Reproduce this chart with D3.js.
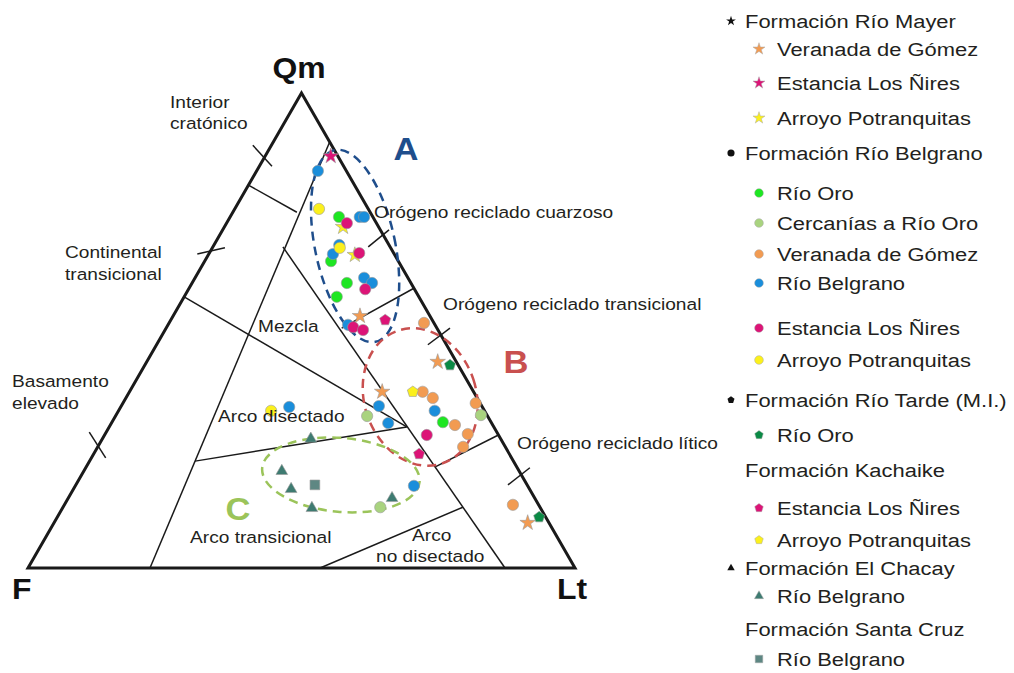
<!DOCTYPE html>
<html>
<head>
<meta charset="utf-8">
<script src="https://cdnjs.cloudflare.com/ajax/libs/d3/7.8.5/d3.min.js"></script>
<style>
  body { margin: 0; background: #fff; }
  text { font-family: "Liberation Sans", Arial, sans-serif; fill: #231f20; }
</style>
</head>
<body>
<svg width="1014" height="673"></svg>
<script>
// all points are [Qm, F, Lt] in percent
var mayerVeranada = [[53.1, 12.8, 34.2], [37.1, 16.7, 46.2], [43.4, 3.4, 53.2], [9.5, 3.9, 86.6]];
var mayerNires = [[86.7, 1.3, 12.0]];
var mayerArroyo = [[71.8, 6.5, 21.7], [65.9, 7.3, 26.8]];

var belgranoRioOro = [[73.9, 6.2, 19.9], [64.6, 12.3, 23.1], [60.0, 11.7, 28.3], [57.1, 15.0, 27.9], [30.7, 8.8, 60.5]];
var belgranoCercanias = [[32.0, 22.0, 46.0], [12.8, 29.2, 58.0], [32.2, 1.1, 66.7]];
var belgranoVeranada = [[51.6, 1.8, 46.6], [37.1, 9.3, 53.6], [35.8, 8.1, 56.1], [30.1, 6.9, 63.0],
  [34.7, 0.8, 64.5], [28.2, 5.5, 66.3], [25.5, 7.7, 66.8], [13.3, 4.7, 82.0]];
var belgranoBelgrano = [[83.6, 5.2, 11.2], [73.9, 2.4, 23.7], [73.9, 1.6, 24.5], [68.0, 9.1, 22.9],
  [66.1, 11.2, 22.7], [61.1, 8.0, 30.9], [60.0, 7.1, 32.9], [51.2, 15.9, 32.9], [33.1, 9.1, 57.8],
  [34.1, 18.8, 47.1], [30.5, 18.9, 50.6], [33.9, 35.3, 30.8], [17.3, 20.8, 61.9]];
var belgranoNires = [[72.6, 5.4, 22.0], [66.3, 6.3, 27.4], [58.7, 9.0, 32.3], [50.7, 15.2, 34.1],
  [50.1, 13.7, 36.2], [28.0, 13.1, 58.9]];
var belgranoArroyo = [[75.6, 9.0, 15.4], [67.4, 9.3, 23.3], [33.1, 39.0, 27.9]];

var tardeRioOro = [[42.7, 1.5, 55.8], [10.7, 1.2, 88.1]];
var kachaikeNires = [[52.2, 8.6, 39.2], [24.0, 16.5, 59.5]];
var kachaikeArroyo = [[37.1, 11.1, 51.8]];
var chacayBelgrano = [[27.2, 34.7, 38.1], [20.4, 43.4, 36.2], [16.6, 43.6, 39.8], [12.6, 41.8, 45.6], [14.7, 26.1, 59.2]];
var santaCruzBelgrano = [[17.5, 38.8, 43.7]];

// field boundaries (Dickinson QmFLt)
var fieldLines = [
  [[89.7, 0, 10.3], [0, 77.7, 22.3]],
  [[80.6, 19.4, 0], [74.9, 13.4, 11.7]],
  [[57.1, 42.9, 0], [29.7, 15.9, 54.4]],
  [[67.6, 19.6, 12.8], [0, 12.8, 87.2]],
  [[22.5, 58.2, 19.3], [29.7, 15.9, 54.4]],
  [[12.8, 14.1, 73.1], [0, 46.6, 53.4]],
  [[50.5, 17.4, 32.1], [58.9, 0, 41.1]],
  [[21.3, 14.9, 63.8], [28.0, 0, 72.0]]
];
var sideTicks = [
  [[89.0, 14.4, -3.4], [84.6, 13.1, 2.3]],
  [[66.1, 36.0, -2.1], [67.4, 30.3, 2.3]],
  [[28.6, 74.5, -3.1], [23.2, 74.2, 2.6]],
  [[67.6, 4.0, 28.4], [71.2, -1.6, 30.4]],
  [[47.0, 3.4, 49.6], [50.5, -2.4, 51.9]],
  [[17.5, 3.5, 79.0], [21.1, -2.3, 81.2]]
];
var groupCenters = [[67.8, 6.3, 25.9], [36.0, 10.3, 53.7], [19.6, 33.0, 47.4]];
var groupNames = ["A", "B", "C"];

var svg = d3.select("svg");
var qmScale = d3.scaleLinear().domain([0, 100]).range([568, 93]);
var ltScale = d3.scaleLinear().domain([0, 100]).range([28, 575]);

function tern(p) {
  var s = p[0] + p[1] + p[2];
  var qm = p[0] / s * 100, lt = p[2] / s * 100;
  return [ltScale(lt + qm / 2), qmScale(qm)];
}

// the source lettering is a bit wider than Arial
function place(x, y, sx) {
  return "translate(" + x + "," + y + ") scale(" + sx + ",1)";
}

var symbolPentagon = {
  draw: function (ctx, size) {
    var r = Math.sqrt(size / 2.3776);
    for (var k = 0; k < 5; k++) {
      var a = (-90 + 72 * k) * Math.PI / 180;
      if (k == 0) ctx.moveTo(r * Math.cos(a), r * Math.sin(a));
      else ctx.lineTo(r * Math.cos(a), r * Math.sin(a));
    }
    ctx.closePath();
  }
};
var shapes = {
  star: [d3.symbolStar, 75],
  circle: [d3.symbolCircle, 100],
  pentagon: [symbolPentagon, 80],
  triangle: [d3.symbolTriangle, 60],
  square: [d3.symbolSquare, 95]
};

var colOrange = "#f29b52", colMagenta = "#dc1477", colYellow = "#fbf01c",
  colGreen = "#1ee622", colPale = "#a9d37f", colBlue = "#1a8edb",
  colDkGreen = "#0b8a45", colTeal = "#3e7b71", colGrey = "#5e8783";

var series = [
  { data: mayerVeranada, shape: "star", color: colOrange },
  { data: mayerNires, shape: "star", color: colMagenta },
  { data: mayerArroyo, shape: "star", color: colYellow },
  { data: belgranoRioOro, shape: "circle", color: colGreen },
  { data: belgranoCercanias, shape: "circle", color: colPale },
  { data: belgranoVeranada, shape: "circle", color: colOrange },
  { data: belgranoBelgrano, shape: "circle", color: colBlue },
  { data: belgranoNires, shape: "circle", color: colMagenta },
  { data: belgranoArroyo, shape: "circle", color: colYellow },
  { data: tardeRioOro, shape: "pentagon", color: colDkGreen },
  { data: kachaikeNires, shape: "pentagon", color: colMagenta },
  { data: kachaikeArroyo, shape: "pentagon", color: colYellow },
  { data: chacayBelgrano, shape: "triangle", color: colTeal },
  { data: santaCruzBelgrano, shape: "square", color: colGrey }
];

// interior lines
svg.append("g").selectAll("line")
  .data(fieldLines.concat(sideTicks))
  .enter().append("line")
  .attr("x1", function (d) { return tern(d[0])[0]; })
  .attr("y1", function (d) { return tern(d[0])[1]; })
  .attr("x2", function (d) { return tern(d[1])[0]; })
  .attr("y2", function (d) { return tern(d[1])[1]; })
  .attr("stroke", "#1a1a1a")
  .attr("stroke-width", 1.5);

// triangle
var corners = [[100, 0, 0], [0, 100, 0], [0, 0, 100]];
svg.append("path")
  .attr("d", "M" + corners.map(function (c) { return tern(c).join(","); }).join("L") + "Z")
  .attr("fill", "none")
  .attr("stroke", "#1a1a1a")
  .attr("stroke-width", 3)
  .attr("stroke-linejoin", "miter");

// group ellipses
var ellipseStyle = [
  { rx: 40, ry: 98, rot: -12, color: "#1f4e8c" },
  { rx: 56, ry: 70, rot: -18, color: "#c9504f" },
  { rx: 79, ry: 37, rot: 5, color: "#9bc45a" }
];
svg.append("g").selectAll("ellipse")
  .data(groupCenters)
  .enter().append("ellipse")
  .attr("transform", function (d, i) {
    var p = tern(d);
    return "translate(" + p[0] + "," + p[1] + ") rotate(" + ellipseStyle[i].rot + ")";
  })
  .attr("rx", function (d, i) { return ellipseStyle[i].rx; })
  .attr("ry", function (d, i) { return ellipseStyle[i].ry; })
  .attr("fill", "none")
  .attr("stroke", function (d, i) { return ellipseStyle[i].color; })
  .attr("stroke-width", 2.5)
  .attr("stroke-dasharray", "9,6");

// points
series.forEach(function (s) {
  var sym = d3.symbol().type(shapes[s.shape][0]).size(shapes[s.shape][1]);
  svg.append("g").selectAll("path")
    .data(s.data)
    .enter().append("path")
    .attr("transform", function (d) { return "translate(" + tern(d).join(",") + ")"; })
    .attr("d", sym)
    .attr("fill", s.color)
    .attr("stroke", "#9a9a9a")
    .attr("stroke-width", 0.6);
});

// group letters
var letterPos = [[406, 160], [516, 373], [238, 520]];
svg.append("g").selectAll("text")
  .data(groupNames)
  .enter().append("text")
  .attr("transform", function (d, i) { return place(letterPos[i][0], letterPos[i][1], 1.08); })
  .attr("text-anchor", "middle")
  .style("font-size", "32px")
  .style("font-weight", "bold")
  .style("fill", function (d, i) { return ellipseStyle[i].color; })
  .text(function (d) { return d; });

// vertex labels
var vertexLabels = [["Qm", 299, 78, "middle"], ["F", 12, 599, "start"], ["Lt", 572, 599, "middle"]];
vertexLabels.forEach(function (v) {
  svg.append("text").attr("transform", place(v[1], v[2], 1.1)).attr("text-anchor", v[3])
    .style("font-size", "29px").style("font-weight", "bold").style("fill", "#111").text(v[0]);
});

// field labels
var fieldLabels = [
  ["Interior", 170, 108], ["cratónico", 170, 129],
  ["Continental", 65, 258], ["transicional", 65, 280],
  ["Basamento", 12, 387], ["elevado", 12, 409],
  ["Orógeno reciclado cuarzoso", 374, 218],
  ["Orógeno reciclado transicional", 443, 310],
  ["Orógeno reciclado lítico", 517, 449],
  ["Mezcla", 258, 332],
  ["Arco disectado", 218, 422],
  ["Arco transicional", 190, 543],
  ["Arco", 412, 541], ["no disectado", 376, 562]
];
svg.append("g").selectAll("text")
  .data(fieldLabels)
  .enter().append("text")
  .attr("transform", function (d) { return place(d[1], d[2], 1.16); })
  .style("font-size", "16.5px")
  .text(function (d) { return d[0]; });

// legend
var legendRows = [
  ["Formación Río Mayer", "star", "#111", 0],
  ["Veranada de Gómez", "star", colOrange, 1],
  ["Estancia Los Ñires", "star", colMagenta, 1],
  ["Arroyo Potranquitas", "star", colYellow, 1],
  ["Formación Río Belgrano", "circle", "#111", 0],
  ["Río Oro", "circle", colGreen, 1],
  ["Cercanías a Río Oro", "circle", colPale, 1],
  ["Veranada de Gómez", "circle", colOrange, 1],
  ["Río Belgrano", "circle", colBlue, 1],
  ["Estancia Los Ñires", "circle", colMagenta, 1],
  ["Arroyo Potranquitas", "circle", colYellow, 1],
  ["Formación Río Tarde (M.I.)", "pentagon", "#111", 0],
  ["Río Oro", "pentagon", colDkGreen, 1],
  ["Formación Kachaike", null, null, 0],
  ["Estancia Los Ñires", "pentagon", colMagenta, 1],
  ["Arroyo Potranquitas", "pentagon", colYellow, 1],
  ["Formación El Chacay", "triangle", "#111", 0],
  ["Río Belgrano", "triangle", colTeal, 1],
  ["Formación Santa Cruz", null, null, 0],
  ["Río Belgrano", "square", colGrey, 1]
];
var legendY = [21, 49, 83, 118, 153, 193, 223, 254, 283, 328, 360, 400, 435, 470, 508, 540, 568, 596, 629, 659];

var leg = svg.append("g").selectAll("g")
  .data(legendRows)
  .enter().append("g")
  .attr("transform", function (d, i) { return "translate(0," + legendY[i] + ")"; });

leg.filter(function (d) { return d[1]; })
  .append("path")
  .attr("transform", function (d) { return "translate(" + (d[3] ? 759 : 731) + ",0)"; })
  .attr("d", function (d) {
    var base = shapes[d[1]][1];
    return d3.symbol().type(shapes[d[1]][0]).size(d[3] ? base * 0.6 : base * 0.4)();
  })
  .attr("fill", function (d) { return d[2]; })
  .attr("stroke", function (d) { return d[3] ? "#aaa" : "none"; })
  .attr("stroke-width", 0.5);

leg.append("text")
  .attr("transform", function (d) { return place(d[3] ? 777 : 745, 7, 1.155); })
  .style("font-size", "19px")
  .text(function (d) { return d[0]; });
</script>
</body>
</html>
